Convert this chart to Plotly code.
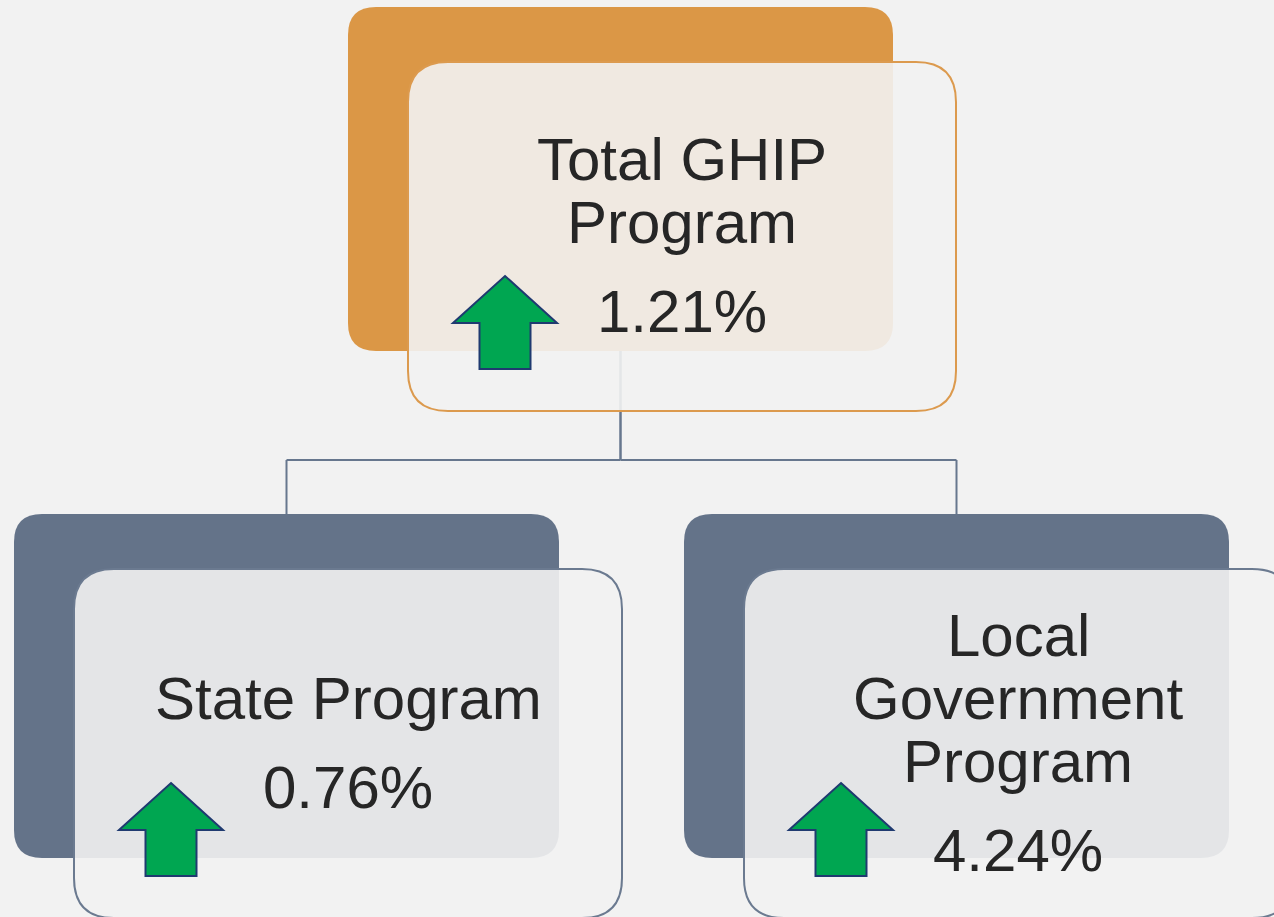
import plotly.graph_objects as go

# Data
node_names = [["Total GHIP", "Program"], ["State Program"], ["Local", "Government", "Program"]]
node_changes = [1.21, 0.76, 4.24]
node_parent = [None, 0, 0]

# Layout of the diagram (pixel space, y grows downwards)
W, H = 1274, 917
back_origin = [(348, 7), (14, 514), (684, 514)]
back_colors = ["#db9746", "#647389", "#647389"]
edge_colors = ["#dc9a4e", "#6b7a90", "#6b7a90"]
BACK_W, BACK_H, BACK_R = 545, 344, 28
FRONT_DX, FRONT_DY, FRONT_W, FRONT_H, FRONT_R = 60, 55, 548, 349, 40
TEXT_DX, NAME_MID, LINE_H, VALUE_GAP = 334, 205, 63, 89
FONT = "Liberation Sans, Arial, sans-serif"


def rounded_rect(x0, y0, x1, y1, r):
    return (f"M {x0 + r},{y0} L {x1 - r},{y0} Q {x1},{y0} {x1},{y0 + r} "
            f"L {x1},{y1 - r} Q {x1},{y1} {x1 - r},{y1} L {x0 + r},{y1} "
            f"Q {x0},{y1} {x0},{y1 - r} L {x0},{y0 + r} Q {x0},{y0} {x0 + r},{y0} Z")


def up_arrow(tx, ty):
    hw, hh, sw, total = 52, 47, 25.5, 93
    pts = [(tx, ty), (tx + hw, ty + hh), (tx + sw, ty + hh), (tx + sw, ty + total),
           (tx - sw, ty + total), (tx - sw, ty + hh), (tx - hw, ty + hh)]
    return "M " + " L ".join(f"{x},{y}" for x, y in pts) + " Z"


shapes = []
annotations = []

# connectors
line_col = "#67778e"
bus_y = 460
for i, p in enumerate(node_parent):
    if p is None:
        continue
    px = back_origin[p][0] + BACK_W / 2
    cx = back_origin[i][0] + BACK_W / 2
    shapes.append(dict(type="line", x0=px, y0=back_origin[p][1] + 200, x1=px, y1=bus_y,
                       line=dict(color=line_col, width=2)))
    shapes.append(dict(type="line", x0=px, y0=bus_y, x1=cx, y1=bus_y,
                       line=dict(color=line_col, width=2)))
    shapes.append(dict(type="line", x0=cx, y0=bus_y, x1=cx, y1=back_origin[i][1] + 2,
                       line=dict(color=line_col, width=2)))

for i, (bx, by) in enumerate(back_origin):
    shapes.append(dict(type="path", path=rounded_rect(bx, by, bx + BACK_W, by + BACK_H, BACK_R),
                       fillcolor=back_colors[i], line=dict(width=0)))
    fx, fy = bx + FRONT_DX, by + FRONT_DY
    shapes.append(dict(type="path", path=rounded_rect(fx, fy, fx + FRONT_W, fy + FRONT_H, FRONT_R),
                       fillcolor="rgba(242,242,242,0.9)", line=dict(color=edge_colors[i], width=2)))
    shapes.append(dict(type="path", path=up_arrow(bx + 157, by + 269),
                       fillcolor="#00a651", line=dict(color="#1f3a70", width=2)))

    # text, positioned by baseline
    lines = node_names[i]
    first = by + NAME_MID - (len(lines) - 1) * LINE_H / 2
    tx = bx + TEXT_DX
    for k, t in enumerate(lines):
        base = first + k * LINE_H
        annotations.append(dict(x=tx, y=base - 21, text=t, showarrow=False, xanchor="center",
                                yanchor="middle", font=dict(family=FONT, size=60, color="#262626")))
    base = first + (len(lines) - 1) * LINE_H + VALUE_GAP
    annotations.append(dict(x=tx, y=base - 21, text=f"{node_changes[i]:.2f}%", showarrow=False,
                            xanchor="center", yanchor="middle",
                            font=dict(family=FONT, size=60, color="#262626")))

fig = go.Figure()
fig.add_trace(go.Scatter(x=[0, W], y=[0, H], mode="markers", marker=dict(opacity=0),
                         hoverinfo="skip", showlegend=False))
fig.update_layout(
    width=W, height=H,
    margin=dict(l=0, r=0, t=0, b=0),
    paper_bgcolor="#f2f2f2", plot_bgcolor="#f2f2f2",
    xaxis=dict(range=[0, W], visible=False, fixedrange=True),
    yaxis=dict(range=[H, 0], visible=False, fixedrange=True),
    shapes=shapes,
    annotations=annotations,
)
fig.write_html("out.html", config={"displayModeBar": False},
               post_script="document.body.style.margin='0';document.body.style.overflow='hidden';")
